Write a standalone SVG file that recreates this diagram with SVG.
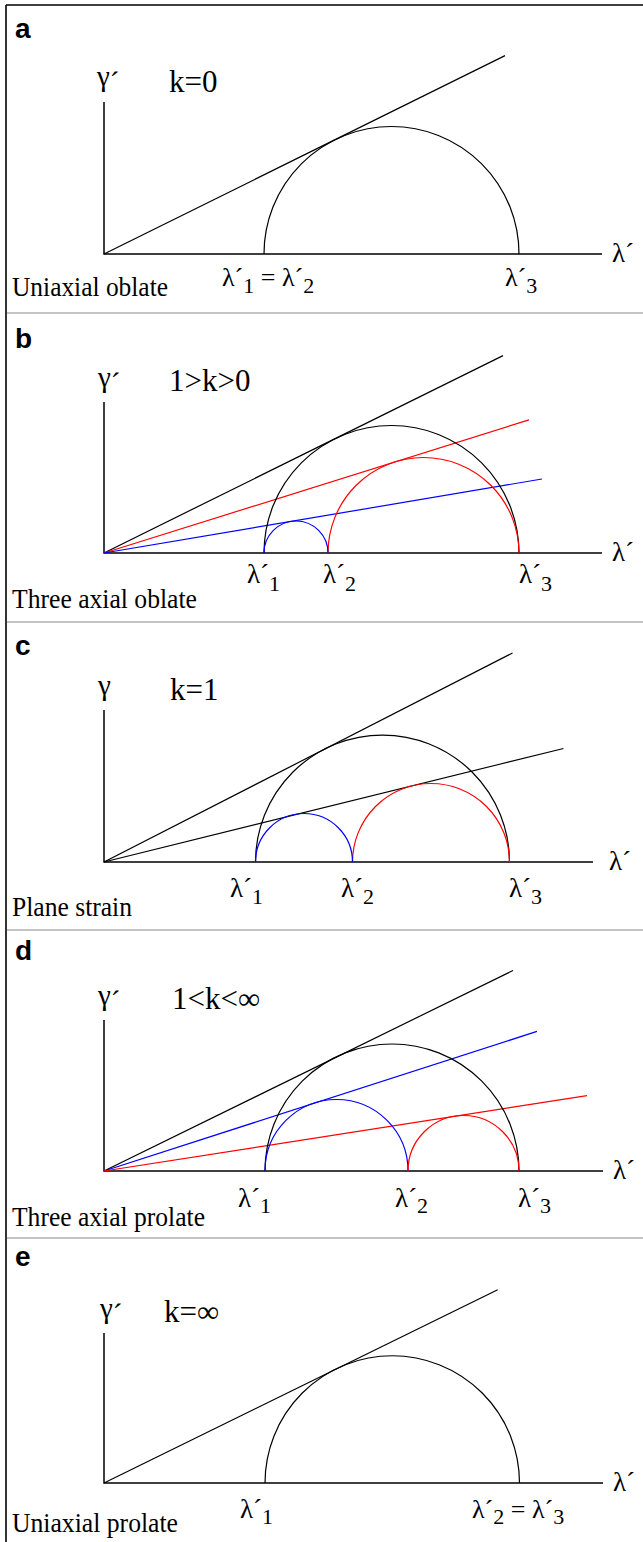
<svg xmlns="http://www.w3.org/2000/svg" width="643" height="1542" viewBox="0 0 643 1542">
<style>
.frame{stroke:#000;stroke-width:1.6;fill:none}
.sep{stroke:#c4c4c4;stroke-width:2}
.ax{stroke:#000;stroke-width:1.5;fill:none}
.k{stroke:#000;stroke-width:1.2;fill:none}
.r{stroke:#f00;stroke-width:1.2;fill:none}
.b{stroke:#00f;stroke-width:1.2;fill:none}
.lbl{font-family:"Liberation Sans",Arial,sans-serif;font-weight:bold;font-size:28px;fill:#000}
.s{font-family:"Liberation Serif","Times New Roman","DejaVu Serif",serif;fill:#000}
.cap{font-size:27px}
.kl{font-size:31px}
.g{font-size:29px}
.lam{font-size:27px}
.lama{font-size:26px}
.sub{font-size:22px}
</style>
<rect width="643" height="1542" fill="#fff"/>
<g id="frame">
<line class="frame" x1="6" y1="5" x2="643" y2="5"/>
<line class="frame" x1="6" y1="5" x2="6" y2="1542"/>
<line class="sep" x1="7" y1="313" x2="643" y2="313"/>
<line class="sep" x1="7" y1="622" x2="643" y2="622"/>
<line class="sep" x1="7" y1="930" x2="643" y2="930"/>
<line class="sep" x1="7" y1="1238" x2="643" y2="1238"/>
</g>

<g id="panel-a">
<text class="lbl" x="15" y="38">a</text>
<text class="s g" x="97" y="86">γ<tspan dy="6">´</tspan></text>
<text class="s kl" x="169" y="92">k=0</text>
<path class="ax" d="M104,102 V254 H602"/>
<g class="connectors">
<line class="k" x1="104" y1="254" x2="505" y2="55.6"/>
</g>
<path class="k" d="M264,254 A127.5,127.5 0 0 1 519,254"/>
<text class="s lama" x="222" y="286">λ´<tspan class="sub" dy="7">1</tspan><tspan dy="-7"> = λ´</tspan><tspan class="sub" dy="7">2</tspan></text>
<text class="s lama" x="505" y="286">λ´<tspan class="sub" dy="7">3</tspan></text>
<text class="s lam" x="612" y="262">λ´</text>
<text class="s cap" x="12" y="296" textLength="156" lengthAdjust="spacingAndGlyphs">Uniaxial oblate</text>
</g>

<g id="panel-b">
<text class="lbl" x="15" y="348">b</text>
<text class="s g" x="98" y="387">γ<tspan dy="6">´</tspan></text>
<text class="s kl" x="169" y="391">1&gt;k&gt;0</text>
<path class="ax" d="M104,402 V553 H602"/>
<g class="connectors">
<line class="k" x1="104" y1="553" x2="503" y2="355.6"/>
<line class="r" x1="104" y1="553" x2="529" y2="419.9"/>
<line class="b" x1="104" y1="553" x2="542" y2="479"/>
</g>
<path class="k" d="M264,553 A127.5,127.5 0 0 1 519,553"/>
<path class="r" d="M328,553 A95.5,95.5 0 0 1 519,553"/>
<path class="b" d="M264,553 A32,32 0 0 1 328,553"/>
<text class="s lam" x="247" y="583">λ´<tspan class="sub" dy="8">1</tspan></text>
<text class="s lam" x="323" y="583">λ´<tspan class="sub" dy="8">2</tspan></text>
<text class="s lam" x="519" y="583">λ´<tspan class="sub" dy="8">3</tspan></text>
<text class="s lam" x="612" y="561">λ´</text>
<text class="s cap" x="12" y="608" textLength="185" lengthAdjust="spacingAndGlyphs">Three axial oblate</text>
</g>

<g id="panel-c">
<text class="lbl" x="15" y="655">c</text>
<text class="s g" x="98" y="695">γ</text>
<text class="s kl" x="170" y="700">k=1</text>
<path class="ax" d="M104,710 V862 H593"/>
<g class="connectors">
<line class="k" x1="104" y1="862" x2="512.5" y2="653"/>
<line class="k" x1="104" y1="862" x2="563.5" y2="748.5"/>
</g>
<path class="k" d="M255.5,862 A127,127 0 0 1 509.5,862"/>
<path class="r" d="M352.5,862 A78.5,78.5 0 0 1 509.5,862"/>
<path class="b" d="M255.5,862 A48.5,48.5 0 0 1 352.5,862"/>
<text class="s lam" x="230" y="897">λ´<tspan class="sub" dy="7">1</tspan></text>
<text class="s lam" x="341" y="897">λ´<tspan class="sub" dy="7">2</tspan></text>
<text class="s lam" x="509" y="897">λ´<tspan class="sub" dy="7">3</tspan></text>
<text class="s lam" x="609" y="870">λ´</text>
<text class="s cap" x="12" y="916" textLength="120" lengthAdjust="spacingAndGlyphs">Plane strain</text>
</g>

<g id="panel-d">
<text class="lbl" x="15" y="960">d</text>
<text class="s g" x="98" y="1005">γ<tspan dy="6">´</tspan></text>
<text class="s kl" x="172" y="1009">1&lt;k&lt;∞</text>
<path class="ax" d="M104,1020 V1171 H603"/>
<g class="connectors">
<line class="k" x1="104" y1="1171" x2="513" y2="970.5"/>
<line class="b" x1="104" y1="1171" x2="537" y2="1031.4"/>
<line class="r" x1="104" y1="1171" x2="587" y2="1095.6"/>
</g>
<path class="k" d="M265,1171 A127,127 0 0 1 519,1171"/>
<path class="b" d="M265,1171 A71.5,71.5 0 0 1 408,1171"/>
<path class="r" d="M408,1171 A55.5,55.5 0 0 1 519,1171"/>
<text class="s lam" x="238" y="1207">λ´<tspan class="sub" dy="6">1</tspan></text>
<text class="s lam" x="395" y="1207">λ´<tspan class="sub" dy="6">2</tspan></text>
<text class="s lam" x="518" y="1207">λ´<tspan class="sub" dy="6">3</tspan></text>
<text class="s lam" x="613" y="1179">λ´</text>
<text class="s cap" x="12" y="1226" textLength="193" lengthAdjust="spacingAndGlyphs">Three axial prolate</text>
</g>

<g id="panel-e">
<text class="lbl" x="15" y="1266">e</text>
<text class="s g" x="100" y="1318">γ<tspan dy="6">´</tspan></text>
<text class="s kl" x="164" y="1322">k=∞</text>
<path class="ax" d="M104,1333 V1483 H603"/>
<g class="connectors">
<line class="k" x1="104" y1="1483" x2="497.7" y2="1289.7"/>
</g>
<path class="k" d="M265,1483 A127.25,127.25 0 0 1 519.5,1483"/>
<text class="s lam" x="240" y="1518">λ´<tspan class="sub" dy="6">1</tspan></text>
<text class="s lama" x="472" y="1518">λ´<tspan class="sub" dy="6">2</tspan><tspan dy="-6"> = λ´</tspan><tspan class="sub" dy="6">3</tspan></text>
<text class="s lam" x="613" y="1491">λ´</text>
<text class="s cap" x="12" y="1532" textLength="166" lengthAdjust="spacingAndGlyphs">Uniaxial prolate</text>
</g>
</svg>
